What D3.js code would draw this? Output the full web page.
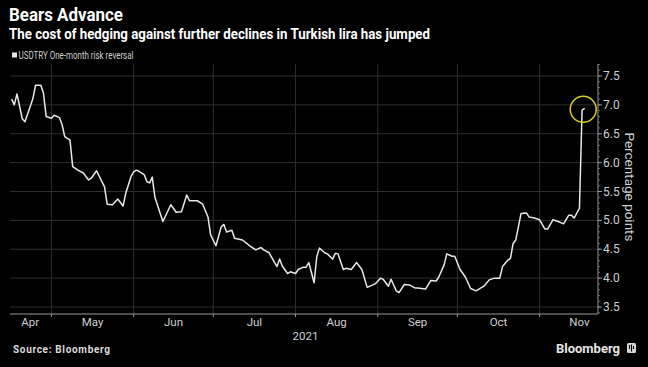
<!DOCTYPE html>
<html lang="en">
<head>
    <meta charset="UTF-8">
    <title>Bears Advance</title>
    <script src="https://d3js.org/d3.v7.min.js"></script>
    <style>
        body {
            margin: 0;
            background-color: #000;
        }
        text {
            font-family: 'Roboto', 'Noto Sans', sans-serif;
        }
    </style>
</head>
<body>
    <script>
        // Data
        const dates = [
            "2021-04-16","2021-04-17","2021-04-18","2021-04-20","2021-04-21","2021-04-23","2021-04-24","2021-04-25",
            "2021-04-27","2021-04-28","2021-04-29","2021-05-01","2021-05-02","2021-05-04","2021-05-05","2021-05-06",
            "2021-05-08","2021-05-09","2021-05-11","2021-05-13","2021-05-15","2021-05-16","2021-05-18","2021-05-21",
            "2021-05-22","2021-05-24","2021-05-26","2021-05-28","2021-05-29","2021-05-31","2021-06-01","2021-06-02",
            "2021-06-03","2021-06-05","2021-06-06","2021-06-07","2021-06-08","2021-06-09","2021-06-12","2021-06-15",
            "2021-06-17","2021-06-19","2021-06-21","2021-06-22","2021-06-25","2021-06-27","2021-06-29","2021-06-30",
            "2021-07-02","2021-07-04","2021-07-05","2021-07-06","2021-07-08","2021-07-09","2021-07-12","2021-07-15",
            "2021-07-17","2021-07-19","2021-07-20","2021-07-22","2021-07-25","2021-07-26","2021-07-27","2021-07-29",
            "2021-07-30","2021-08-01","2021-08-02","2021-08-04","2021-08-05","2021-08-06","2021-08-08","2021-08-09",
            "2021-08-10","2021-08-12","2021-08-13","2021-08-15","2021-08-16","2021-08-17","2021-08-19","2021-08-20",
            "2021-08-22","2021-08-24","2021-08-26","2021-08-28","2021-08-31","2021-09-02","2021-09-03","2021-09-05",
            "2021-09-06","2021-09-08","2021-09-09","2021-09-11","2021-09-13","2021-09-15","2021-09-16","2021-09-19",
            "2021-09-21","2021-09-23","2021-09-24","2021-09-26","2021-09-27","2021-09-29","2021-09-30","2021-10-02",
            "2021-10-04","2021-10-06","2021-10-08","2021-10-11","2021-10-13","2021-10-15","2021-10-17","2021-10-18",
            "2021-10-20","2021-10-21","2021-10-22","2021-10-23","2021-10-25","2021-10-27","2021-10-28","2021-10-30",
            "2021-11-01","2021-11-03","2021-11-04","2021-11-06","2021-11-08","2021-11-10","2021-11-12","2021-11-13",
            "2021-11-14","2021-11-16","2021-11-17","2021-11-18"
        ];
        const riskReversal = [
            7.10, 7.00, 7.19, 6.76, 6.71, 6.97, 7.11, 7.34,
            7.34, 7.20, 6.80, 6.77, 6.82, 6.78, 6.66, 6.45,
            6.39, 5.93, 5.87, 5.82, 5.70, 5.73, 5.86, 5.58,
            5.28, 5.27, 5.37, 5.25, 5.47, 5.76, 5.84, 5.87,
            5.85, 5.79, 5.67, 5.65, 5.75, 5.40, 4.98, 5.27,
            5.14, 5.15, 5.44, 5.34, 5.34, 5.28, 5.06, 4.75,
            4.56, 4.89, 4.93, 4.80, 4.83, 4.69, 4.66, 4.55,
            4.49, 4.53, 4.49, 4.44, 4.20, 4.33, 4.21, 4.08,
            4.11, 4.08, 4.15, 4.19, 4.19, 4.27, 3.92, 4.37,
            4.52, 4.44, 4.42, 4.33, 4.43, 4.42, 4.15, 4.17,
            4.15, 4.27, 4.15, 3.84, 3.90, 4.00, 3.98, 3.86,
            3.98, 3.78, 3.75, 3.89, 3.88, 3.83, 3.83, 3.81,
            3.96, 3.95, 4.02, 4.23, 4.42, 4.38, 4.38, 4.15,
            4.02, 3.82, 3.78, 3.86, 3.97, 4.00, 4.00, 4.20,
            4.31, 4.34, 4.60, 4.66, 5.12, 5.13, 5.06, 5.04,
            5.01, 4.85, 4.85, 5.01, 4.98, 4.94, 5.09, 5.09,
            5.04, 5.21, 6.91, 6.94
        ];
        const yTicks = [3.5, 4.0, 4.5, 5.0, 5.5, 6.0, 6.5, 7.0, 7.5];
        const monthLabels = ["Apr", "May", "Jun", "Jul", "Aug", "Sep", "Oct", "Nov"];

        const parse = d3.timeParse("%Y-%m-%d");
        const data = dates.map((d, i) => ({date: parse(d), value: riskReversal[i]}));

        const W = 648, H = 367;
        const plot = {left: 9, right: 598, top: 64, bottom: 314};

        const x = d3.scaleTime()
            .domain([parse("2021-04-15"), parse("2021-11-23")])
            .range([plot.left, plot.right]);
        const y = d3.scaleLinear()
            .domain([3.379, 7.708])
            .range([plot.bottom, plot.top]);

        const svg = d3.select("body").append("svg")
            .attr("width", W)
            .attr("height", H)
            .style("display", "block")
            .style("background", "#000");

        // Titles
        svg.append("text")
            .attr("x", 9).attr("y", 21)
            .attr("fill", "#fff")
            .attr("font-size", 18.5).attr("font-weight", 700)
            .attr("textLength", 114).attr("lengthAdjust", "spacingAndGlyphs")
            .text("Bears Advance");
        svg.append("text")
            .attr("x", 9).attr("y", 38.5)
            .attr("fill", "#fff")
            .attr("font-size", 14).attr("font-weight", 700)
            .attr("textLength", 421).attr("lengthAdjust", "spacingAndGlyphs")
            .text("The cost of hedging against further declines in Turkish lira has jumped");

        // Legend
        svg.append("rect")
            .attr("x", 12).attr("y", 52.5).attr("width", 5).attr("height", 5)
            .attr("fill", "#e6e6e6");
        svg.append("text")
            .attr("x", 18.5).attr("y", 58.5)
            .attr("fill", "#cfcfcf")
            .attr("font-size", 10.5)
            .attr("textLength", 115).attr("lengthAdjust", "spacingAndGlyphs")
            .text("USDTRY One-month risk reversal");

        // Grid
        const months = x.ticks(d3.timeMonth.every(1)).filter(d => x(d) > plot.left + 1);
        svg.append("g").selectAll("line")
            .data(yTicks)
            .join("line")
            .attr("x1", plot.left + 1).attr("x2", plot.right)
            .attr("y1", d => y(d)).attr("y2", d => y(d))
            .attr("stroke", "#2e2e2e").attr("stroke-width", 1);
        svg.append("g").selectAll("line")
            .data(months)
            .join("line")
            .attr("x1", d => x(d)).attr("x2", d => x(d))
            .attr("y1", plot.top).attr("y2", plot.bottom)
            .attr("stroke", "#2e2e2e").attr("stroke-width", 1);

        // X axis
        svg.append("line")
            .attr("x1", plot.left + 1).attr("x2", plot.right)
            .attr("y1", plot.bottom).attr("y2", plot.bottom)
            .attr("stroke", "#9a9a9a");
        svg.append("g").selectAll("line")
            .data(months)
            .join("line")
            .attr("x1", d => x(d)).attr("x2", d => x(d))
            .attr("y1", plot.bottom).attr("y2", plot.bottom + 3)
            .attr("stroke", "#9a9a9a");

        const d0 = x.domain()[0];
        const monthStarts = d3.timeMonth.range(d3.timeMonth.floor(d0), x.domain()[1]);
        svg.append("g").selectAll("text")
            .data(monthStarts)
            .join("text")
            .attr("x", (d, i) => {
                const a = d < d0 ? d0 : d;
                const b = d3.timeMonth.offset(d, 1);
                return (x(a) + x(b)) / 2;
            })
            .attr("y", 326)
            .attr("text-anchor", "middle")
            .attr("fill", "#cfcfcf")
            .attr("font-size", 11.5)
            .text((d, i) => monthLabels[i]);
        svg.append("text")
            .attr("x", x(parse("2021-08-01")) + 10).attr("y", 339.5)
            .attr("text-anchor", "middle")
            .attr("fill", "#cfcfcf")
            .attr("font-size", 11.5)
            .text("2021");

        // Y axis (right)
        svg.append("line")
            .attr("x1", plot.right).attr("x2", plot.right)
            .attr("y1", plot.top).attr("y2", plot.bottom)
            .attr("stroke", "#9a9a9a");
        const minor = d3.range(34, 78).map(d => d / 10);
        svg.append("g").selectAll("line")
            .data(minor)
            .join("line")
            .attr("x1", plot.right).attr("x2", plot.right + 2)
            .attr("y1", d => y(d)).attr("y2", d => y(d))
            .attr("stroke", "#6a6a6a");
        svg.append("g").selectAll("line")
            .data(yTicks)
            .join("line")
            .attr("x1", plot.right).attr("x2", plot.right + 4)
            .attr("y1", d => y(d)).attr("y2", d => y(d))
            .attr("stroke", "#9a9a9a");
        svg.append("g").selectAll("text")
            .data(yTicks)
            .join("text")
            .attr("x", plot.right + 5).attr("y", d => y(d) + 4)
            .attr("fill", "#cfcfcf")
            .attr("font-size", 12)
            .text(d => d3.format(".1f")(d));
        svg.append("text")
            .attr("transform", `translate(625, ${(plot.top + plot.bottom) / 2 - 2}) rotate(90)`)
            .attr("text-anchor", "middle")
            .attr("fill", "#cfcfcf")
            .attr("font-size", 13.5)
            .text("Percentage points");

        // Line
        const line = d3.line()
            .x(d => x(d.date))
            .y(d => y(d.value));
        svg.append("path")
            .datum(data)
            .attr("fill", "none")
            .attr("stroke", "#e8e8e8")
            .attr("stroke-width", 1.5)
            .attr("stroke-linejoin", "round")
            .attr("d", line);

        // Highlight circle round the last point
        const last = data[data.length - 1];
        svg.append("circle")
            .attr("cx", x(last.date) - 1.5)
            .attr("cy", y(last.value) + 1)
            .attr("r", 13)
            .attr("fill", "none")
            .attr("stroke", "#d9cc22")
            .attr("stroke-width", 1.5);

        // Footer
        svg.append("text")
            .attr("x", 13).attr("y", 353)
            .attr("fill", "#dcdcdc")
            .attr("font-size", 10).attr("font-weight", 700)
            .attr("textLength", 97).attr("lengthAdjust", "spacing")
            .text("Source: Bloomberg");
        svg.append("text")
            .attr("x", 620).attr("y", 352.5)
            .attr("text-anchor", "end")
            .attr("fill", "#e6e6e6")
            .attr("font-size", 13).attr("font-weight", 700)
            .text("Bloomberg");
        const logo = svg.append("g").attr("transform", "translate(627, 343)");
        logo.append("rect")
            .attr("width", 9).attr("height", 10).attr("rx", 1.5)
            .attr("fill", "#d6d6d6");
        logo.append("path")
            .attr("d", "M2.5 2 V6 M4.5 1.5 V8.5 M6.5 3 V6")
            .attr("stroke", "#000").attr("stroke-width", 1.1);
    </script>
</body>
</html>
